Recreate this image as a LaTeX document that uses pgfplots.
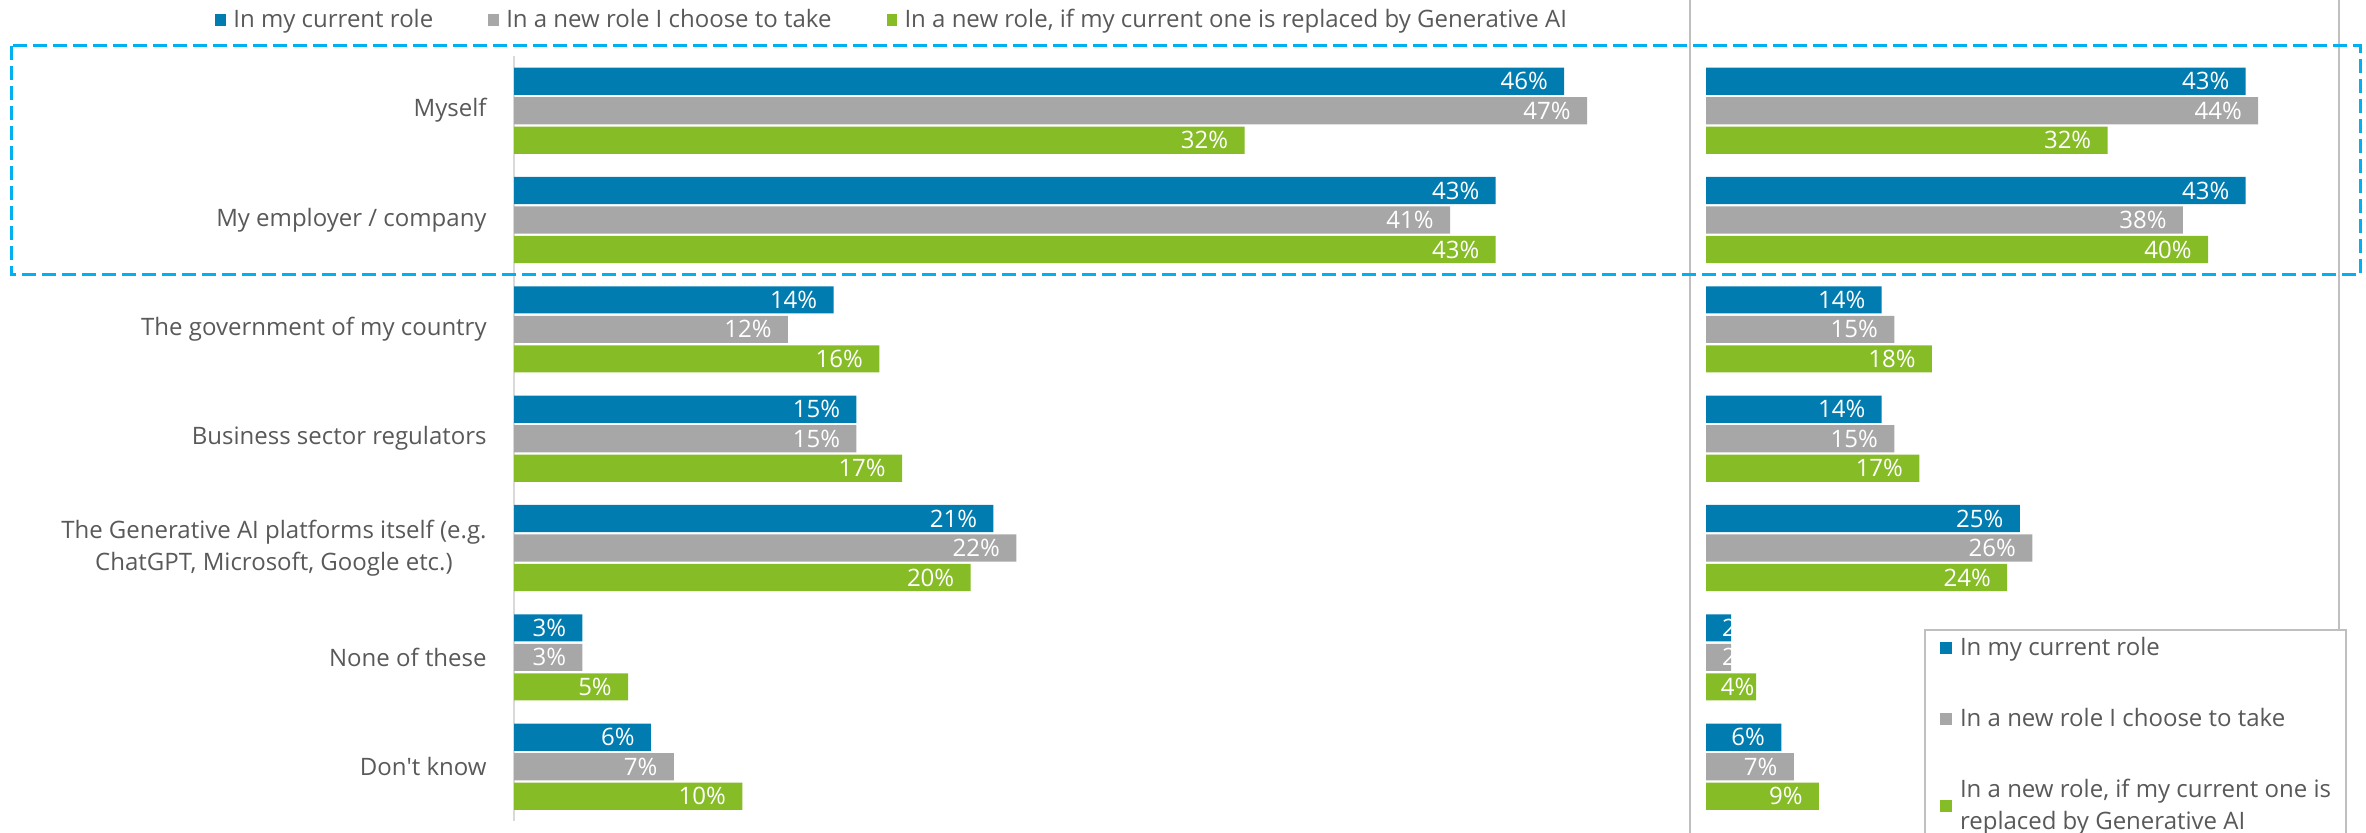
\documentclass[border=0pt]{standalone}
\usepackage{pgfplots}
\pgfplotsset{compat=1.18}
\usepackage{pgfplotstable}
\usepackage{fontspec}
\setmainfont{Open Sans}

\definecolor{cblue}{HTML}{007CB0}
\definecolor{cgray}{HTML}{A7A7A7}
\definecolor{cgreen}{HTML}{86BC25}
\definecolor{txt}{HTML}{595959}
\definecolor{linegray}{HTML}{BFBFBF}
\definecolor{axgray}{HTML}{D9D9D9}
\definecolor{dashblue}{HTML}{00B0F0}
\newcommand\lf{\fontsize{12pt}{15.7pt}\selectfont}

% y = row (0 = Myself ... 6 = Don't know), a/b/c = the three series
\pgfplotstableread{
y a b c
0 46 47 32
1 43 41 43
2 14 12 16
3 15 15 17
4 21 22 20
5 3 3 5
6 6 7 10
}\lefttab
% sa/sb/sc = shift of the value label
\pgfplotstableread{
y a b c sa sb sc
0 43 44 32 -8 -8 -8
1 43 38 40 -8 -8 -8
2 14 15 18 -8 -8 -8
3 14 15 17 -8 -8 -8
4 25 26 24 -8 -8 -8
5 2 2 4 12.5 12.5 -0.7
6 6 7 9 -8 -8 -8
}\righttab

\pgfplotsset{
  sqtop/.style={legend image code/.code={\fill[##1] (0pt,-3pt) rectangle (5.3pt,3pt);}},
  sqbox/.style={legend image code/.code={\fill[##1] (0pt,-3pt) rectangle (6pt,3pt);}},
  panel/.style={xbar, bar width=13.6pt, xmin=0, xmax=50, ymin=-0.5, ymax=6.5,
    y dir=reverse, y=54.67pt, scale only axis, clip=false, point meta=x,
    nodes near coords={\pgfmathprintnumber{\pgfplotspointmeta}\%},
    /pgf/number format/assume math mode=true,
    every node near coord/.append style={anchor=east, text=white, font=\lf, inner sep=0pt}},
}

\begin{document}
\begin{tikzpicture}
\useasboundingbox (0pt,0pt) rectangle (1183pt,-416.5pt);
\clip (0pt,0pt) rectangle (1183pt,-416.5pt);

\draw[linegray, line width=1.2pt] (845pt,0pt) -- (845pt,-416.5pt);
\draw[linegray, line width=1.2pt] (1169.5pt,0pt) -- (1169.5pt,-416.5pt);

\begin{axis}[panel, x=11.415pt, at={(257pt,-28pt)}, anchor=north west,
  axis x line=none, axis y line*=left,
  y axis line style={-, draw=axgray, line width=1pt},
  ytick={0,...,6}, major tick length=0pt,
  yticklabels={Myself, My employer / company, The government of my country,
    Business sector regulators,
    {The Generative AI platforms itself (e.g.\\ChatGPT, Microsoft, Google etc.)},
    None of these, Don\textquotesingle t know},
  yticklabel style={font=\lf, text=txt, align=center, inner sep=0pt, xshift=-13.5pt},
  every node near coord/.append style={xshift=-8pt},
  legend columns=3,
  legend style={at={(-0.2619,1.047)}, anchor=west, draw=none, fill=none,
    inner sep=0pt, nodes={inner sep=0pt, text=txt, font=\lf},
    /tikz/every odd column/.append style={column sep=3.7pt},
    /tikz/every even column/.append style={column sep=27.5pt}},
  ]
\addplot[fill=cblue, draw=none, bar shift=14.75pt, sqtop] table[x=a, y=y] {\lefttab};
\addplot[fill=cgray, draw=none, bar shift=0pt, sqtop] table[x=b, y=y] {\lefttab};
\addplot[fill=cgreen, draw=none, bar shift=-14.75pt, sqtop] table[x=c, y=y] {\lefttab};
\legend{In my current role, In a new role I choose to take, {In a new role, if my current one is replaced by Generative AI}}
\end{axis}

\begin{axis}[panel, x=6.275pt, at={(853pt,-28pt)}, anchor=north west,
  hide axis,
  every node near coord/.append style={xshift=\sh pt},
  legend columns=1, legend cell align=left,
  legend style={at={(0.3474,0.2514)}, anchor=north west, draw=linegray, fill=white,
    line width=1pt, inner xsep=7.5pt, inner ysep=3.5pt, row sep=25pt, align=left,
    nodes={inner sep=0pt, text=txt, font=\lf},
    /tikz/every odd column/.append style={column sep=4pt}},
  ]
\addplot[fill=cblue, draw=none, bar shift=14.75pt, sqbox,
  visualization depends on={\thisrow{sa}\as\sh}] table[x=a, y=y] {\righttab};
\addplot[fill=cgray, draw=none, bar shift=0pt, sqbox,
  visualization depends on={\thisrow{sb}\as\sh}] table[x=b, y=y] {\righttab};
\addplot[fill=cgreen, draw=none, bar shift=-14.75pt, sqbox,
  visualization depends on={\thisrow{sc}\as\sh}] table[x=c, y=y] {\righttab};
\addlegendimage{empty legend}
\legend{In my current role, In a new role I choose to take, {In a new role, if my current one is\\replaced by Generative AI}, {}}
\end{axis}

\draw[dashblue, line width=1.5pt, dash pattern=on 7pt off 3pt] (5.5pt,-23pt) rectangle (1180pt,-137.5pt);
\end{tikzpicture}
\end{document}
